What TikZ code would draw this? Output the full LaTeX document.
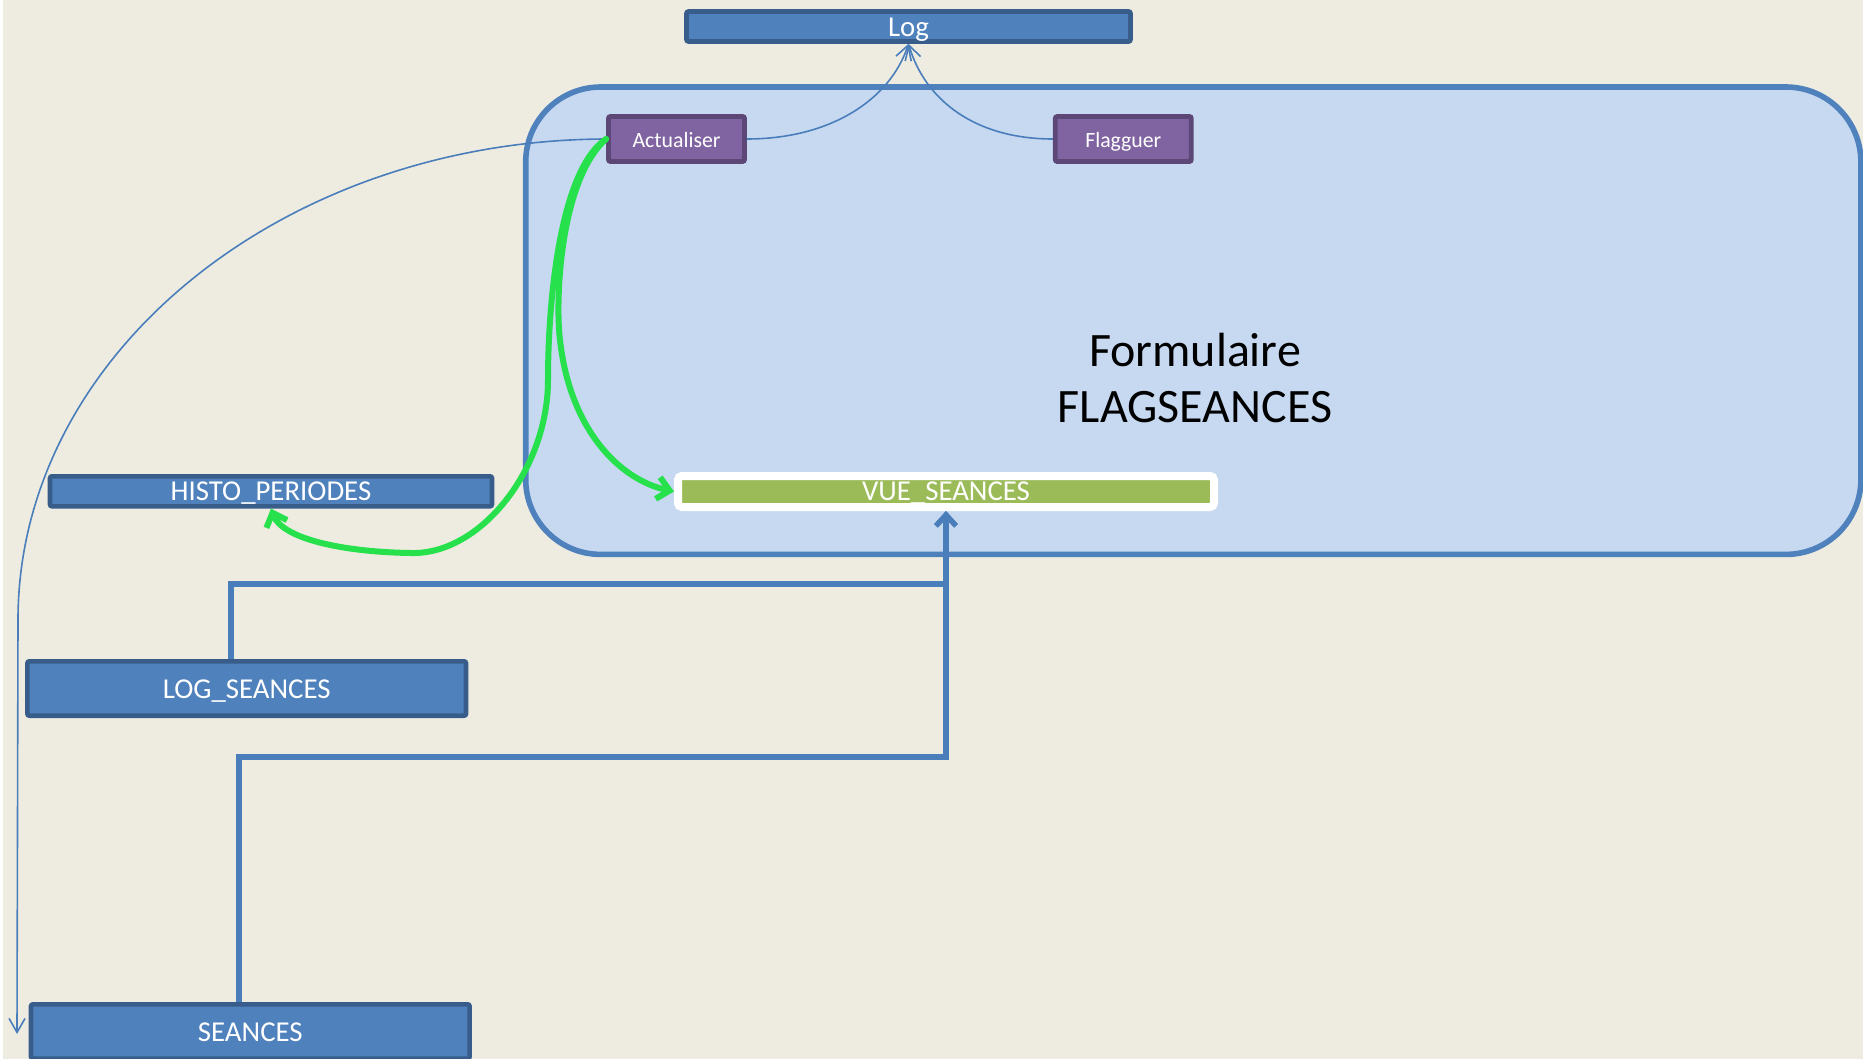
\documentclass[tikz,border=0pt]{standalone}
\usepackage{fontspec}
\setmainfont{Carlito}
\usetikzlibrary{arrows.meta,
                positioning}
\definecolor{slidebg}{HTML}{EEECE1}
\definecolor{tableblue}{HTML}{4F81BD}
\definecolor{tableborder}{HTML}{385D8A}
\definecolor{formfill}{HTML}{C6D9F1}
\definecolor{buttonfill}{HTML}{8064A2}
\definecolor{buttonborder}{HTML}{5C4776}
\definecolor{viewgreen}{HTML}{9BBB59}
\definecolor{flowgreen}{HTML}{26E04C}
\definecolor{linkblue}{HTML}{4A7EBB}
\tikzstyle{tablebox} = [rectangle, rounded corners=1pt, draw=tableborder, fill=tableblue, line width=2.3pt, text=white, inner sep=0pt, text height=9.6pt, text depth=0pt, font=\fontsize{14.4}{17}\selectfont]
\tikzstyle{buttonbox} = [rectangle, rounded corners=1pt, draw=buttonborder, fill=buttonfill, line width=2.4pt, text=white, inner sep=0pt, minimum width=68pt, minimum height=22.5pt, text height=8.6pt, text depth=0pt, font=\fontsize{10.9}{13}\selectfont]
\tikzstyle{viewbar} = [rectangle, rounded corners=2pt, draw=white, fill=viewgreen, line width=4pt, text=white, inner sep=0pt, minimum width=268pt, minimum height=15.5pt, text height=9.2pt, text depth=0pt, font=\fontsize{14.4}{17}\selectfont]
\tikzstyle{formbox} = [rectangle, rounded corners=37.5pt, draw=tableblue, fill=formfill, line width=2.8pt, minimum width=667.6pt, minimum height=233.7pt]
\tikzstyle{link} = [draw=linkblue, line width=0.8pt, -{Straight Barb[length=7pt,width=8pt]}]
\tikzstyle{flow} = [draw=flowgreen, line width=3pt, line cap=round, -{Straight Barb[length=6pt,width=11pt]}]
\tikzstyle{feed} = [draw=linkblue, line width=2.6pt, -{Straight Barb[length=5.5pt,width=10pt]}]
\begin{document}
\begin{tikzpicture}[x=0.5pt, y=-0.5pt]
\useasboundingbox (0,0) rectangle (1863,1059);
\fill[white] (0,0) rectangle (1863,1059);
\fill[slidebg] (3,0) rectangle (1863,1059);
% form and its buttons
\node (form) [formbox] at (1193.3,320.7) {};
\node (formtitle) [align=center, font=\fontsize{24}{28.4}\selectfont] at (1195,378) {Formulaire\\FLAGSEANCES};
\node (act) [buttonbox] at (676.5,139) {Actualiser};
\node (flag) [buttonbox, right=153pt of act] {Flagguer};
\node (vue) [viewbar] at (946,491.5) {VUE\_SEANCES};
% tables
\node (log) [tablebox, minimum width=222pt, minimum height=15pt] at (908.5,26.5) {Log};
\node (histo) [tablebox, minimum width=221pt, minimum height=15pt] at (271,491.3) {HISTO\_PERIODES};
\node (logseances) [tablebox, minimum width=219.3pt, minimum height=27.2pt] at (246.7,688.5) {LOG\_SEANCES};
\node (seances) [tablebox, minimum width=219.3pt, minimum height=27.2pt] at (250.3,1031.5) {SEANCES};
\coordinate (seancesin) at (17,1034);
% links
\draw [link] (act.east) .. controls (830,139) and (890,100) .. (log.south);
\draw [link] (flag.west) .. controls (975,139) and (925,100) .. (log.south);
\draw [link] (act.west) .. controls (282,140) and (18,355) .. (18,620) -- (seancesin);
\draw [flow] (act.west) .. controls (560,170) and (548,300) .. (548,380) .. controls (548,470) and (480,555) .. (411,553) .. controls (340,552) and (282,538) .. (histo.south);
\draw [flow] (act.west) .. controls (560,180) and (555,300) .. (560,340) .. controls (570,430) and (620,480) .. (vue.west);
\draw [feed] ([xshift=-7.85pt]logseances.north) -- ++(0,-75) -| (vue.south);
\draw [feed] ([xshift=-5.65pt]seances.north) -- ++(0,-245) -| (vue.south);
\end{tikzpicture}
\end{document}
